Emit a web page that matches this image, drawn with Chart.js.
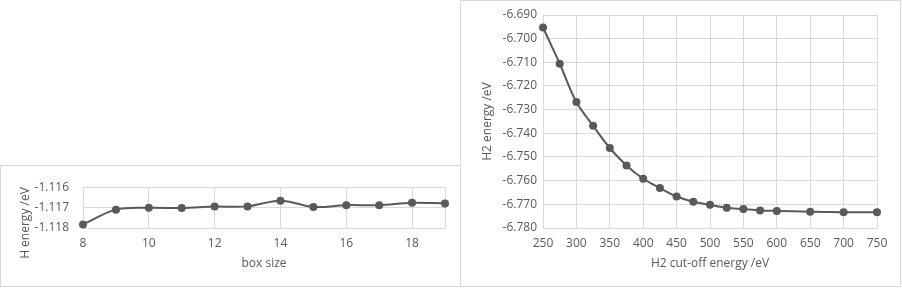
<!DOCTYPE html>
<html>
<head>
<meta charset="utf-8">
<script src="https://cdn.jsdelivr.net/npm/chart.js@4/dist/chart.umd.min.js"></script>
<style>
  body { margin:0; background:#fff; }
  .box { position:absolute; border:1px solid #d9d9d9; background:#fff; }
  #boxH { left:0; top:165px; width:459px; height:120px; }
  #boxH2 { left:460px; top:0; width:439px; height:285px; }
</style>
</head>
<body>
<div class="box" id="boxH"><canvas id="chartH" width="459" height="120"></canvas></div>
<div class="box" id="boxH2"><canvas id="chartH2" width="439" height="285"></canvas></div>
<script>
// H atom: energy vs box size
const hBoxSizes = [8, 9, 10, 11, 12, 13, 14, 15, 16, 17, 18, 19];
const hEnergies = [-1.11783, -1.11710, -1.11701, -1.11702, -1.11695, -1.11694, -1.11666, -1.11697, -1.11688, -1.11688, -1.11676, -1.11680];
const boxSizeTicks = [8, 10, 12, 14, 16, 18, 19];
const hEnergyTicks = [-1.118, -1.117, -1.116];

// H2: energy vs cut-off energy
const h2Cutoffs = [250, 275, 300, 325, 350, 375, 400, 425, 450, 475, 500, 525, 550, 575, 600, 650, 700, 750];
const h2Energies = [-6.6953, -6.7106, -6.7268, -6.7368, -6.7462, -6.7536, -6.7592, -6.7631, -6.7667, -6.7689, -6.7702, -6.7714, -6.7720, -6.7726, -6.7728, -6.7731, -6.7733, -6.7733];
const cutoffTicks = [250, 300, 350, 400, 450, 500, 550, 600, 650, 700, 750];
const h2EnergyTicks = [-6.780, -6.770, -6.760, -6.750, -6.740, -6.730, -6.720, -6.710, -6.700, -6.690];

const grey = "#595959";
const gridGrey = "#d9d9d9";
const font = { family: "'Open Sans', sans-serif", size: 12 };

function makeChart(id, xs, ys, xTicks, yTicks, xTitle, yTitle, lay) {
  return new Chart(id, {
    type: "line",
    data: {
      datasets: [{
        data: xs.map((x, i) => ({ x: x, y: ys[i] })),
        borderColor: grey,
        backgroundColor: grey,
        borderWidth: 2,
        pointRadius: 4,
        pointBorderWidth: 0,
        tension: 0.35,
        clip: false
      }]
    },
    options: {
      responsive: false,
      animation: false,
      layout: { padding: { top: lay.top, right: lay.right, left: 0, bottom: lay.bottom } },
      plugins: { legend: { display: false }, tooltip: { enabled: false } },
      scales: {
        x: {
          type: "linear",
          min: xTicks[0],
          max: xTicks[xTicks.length - 1],
          afterBuildTicks: s => { s.ticks = xTicks.map(v => ({ value: v })); },
          afterFit: s => { s.height = 50; },
          grid: { color: gridGrey, drawTicks: false },
          border: { color: gridGrey },
          ticks: {
            color: grey, font: font, padding: 8, maxRotation: 0, autoSkip: false,
            callback: v => (lay.hideLast && v === xTicks[xTicks.length - 1]) ? "" : v
          },
          title: { display: true, text: xTitle, color: grey, font: font, padding: { top: 0, bottom: 7 } }
        },
        y: {
          min: yTicks[0],
          max: yTicks[yTicks.length - 1],
          afterBuildTicks: s => { s.ticks = yTicks.map(v => ({ value: v })); },
          afterFit: s => { s.width = 82; },
          grid: { color: gridGrey, drawTicks: false },
          border: { display: false },
          ticks: { color: grey, font: font, padding: lay.yPad, callback: v => v.toFixed(3) },
          title: { display: true, text: yTitle, color: grey, font: font, align: lay.titleAlign, padding: { top: lay.titlePad, bottom: 0 } }
        }
      }
    }
  });
}

makeChart("chartH", hBoxSizes, hEnergies, boxSizeTicks, hEnergyTicks, "box size", "H energy /eV",
  { top: 15, right: 15, bottom: 8, yPad: 14, titleAlign: "end", titlePad: 17, hideLast: true });
makeChart("chartH2", h2Cutoffs, h2Energies, cutoffTicks, h2EnergyTicks, "H2 cut-off energy /eV", "H2 energy /eV",
  { top: 14, right: 23, bottom: 8, yPad: 6, titleAlign: "center", titlePad: 19, hideLast: false });
</script>
</body>
</html>
